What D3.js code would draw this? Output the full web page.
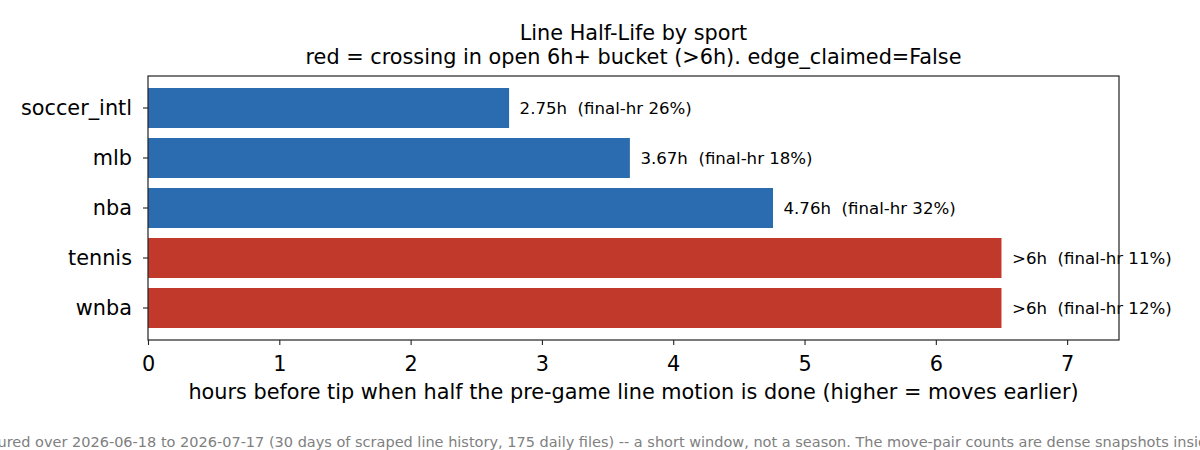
<!DOCTYPE html>
<html>
<head>
<meta charset="utf-8">
<script src="https://cdn.jsdelivr.net/npm/d3@7"></script>
<style>
  html, body { margin: 0; padding: 0; background: #fff; }
  svg { display: block; font-family: "DejaVu Sans", sans-serif; }
</style>
</head>
<body>
<svg id="chart" width="1200" height="450"></svg>
<script>
// ---- data ----
const sports = ["soccer_intl", "mlb", "nba", "tennis", "wnba"];
const halfLifeHours = [2.75, 3.67, 4.76, 6.5, 6.5];
const openBucket = [false, false, false, true, true];
const finalHourPct = [26, 18, 32, 11, 12];
const valueLabels = ["2.75h", "3.67h", "4.76h", ">6h", ">6h"];
const xTicks = [0, 1, 2, 3, 4, 5, 6, 7];
const titleLines = ["Line Half-Life by sport", "red = crossing in open 6h+ bucket (>6h). edge_claimed=False"];
const xLabel = "hours before tip when half the pre-game line motion is done (higher = moves earlier)";
const footPrefix = "Half-life meas";
const footRest = "ured over 2026-06-18 to 2026-07-17 (30 days of scraped line history, 175 daily files) -- a short window, not a season. The move-pair counts are dense snapshots inside each game, not independent games.";

const rows = sports.map((s, i) => ({ sport: s, v: halfLifeHours[i], open: openBucket[i], pct: finalHourPct[i], lab: valueLabels[i] }));

const svg = d3.select("#chart");
const L = 148, R = 1119, T = 76, B = 340;
const BIG = "20.8px", MID = "16.6px", SMALL = "14.5px";

const x = d3.scaleLinear().domain([0, 7.395]).range([L, R]);
// matplotlib-like categorical: positions 0..4 with ylim [-0.64, 4.64]
const yPos = d3.scaleLinear().domain([-0.64, 4.64]).range([T, B]);
const barH = yPos(0.4) - yPos(-0.4);

const blue = "#2b6cb0", red = "#c0392b";

// bars
svg.append("g").selectAll("rect").data(rows).join("rect")
  .attr("x", x(0))
  .attr("y", (d, i) => yPos(i) - barH / 2)
  .attr("width", d => x(d.v) - x(0))
  .attr("height", barH)
  .attr("fill", d => d.open ? red : blue);

// value labels
svg.append("g").selectAll("text").data(rows).join("text")
  .attr("x", d => x(d.v + 0.08))
  .attr("y", (d, i) => yPos(i))
  .attr("dy", "0.35em")
  .attr("font-size", MID)
  .attr("fill", "#000")
  .style("white-space", "pre")
  .text(d => `${d.lab}  (final-hr ${d.pct}%)`);

// frame
svg.append("rect").attr("x", L).attr("y", T).attr("width", R - L).attr("height", B - T)
  .attr("fill", "none").attr("stroke", "#222").attr("stroke-width", 1.2);

// x axis
const xAxis = d3.axisBottom(x).tickValues(xTicks).tickFormat(d3.format("d")).tickSize(5).tickPadding(11);
const gx = svg.append("g").attr("transform", `translate(0,${B})`).call(xAxis);
gx.select(".domain").remove();
gx.selectAll("line").attr("stroke", "#222").attr("stroke-width", 1.1);
gx.selectAll("text").attr("font-size", BIG).attr("fill", "#000").attr("font-family", "DejaVu Sans, sans-serif");

// y axis
const yBand = d3.scaleOrdinal().domain(sports).range(sports.map((s, i) => yPos(i)));
const gy = svg.append("g").attr("transform", `translate(${L},0)`);
gy.selectAll("line").data(sports).join("line")
  .attr("x1", -5).attr("x2", 0)
  .attr("y1", d => yBand(d)).attr("y2", d => yBand(d))
  .attr("stroke", "#222").attr("stroke-width", 1.1);
gy.selectAll("text").data(sports).join("text")
  .attr("x", -16).attr("y", d => yBand(d)).attr("dy", "0.35em")
  .attr("text-anchor", "end").attr("font-size", BIG).attr("fill", "#000")
  .text(d => d);

// axis label
svg.append("text").attr("x", (L + R) / 2).attr("y", 399).attr("text-anchor", "middle")
  .attr("font-size", BIG).attr("fill", "#000").text(xLabel);

// title
svg.append("text").attr("x", (L + R) / 2).attr("y", 40).attr("text-anchor", "middle")
  .attr("font-size", BIG).attr("fill", "#000").text(titleLines[0]);
svg.append("text").attr("x", (L + R) / 2).attr("y", 64).attr("text-anchor", "middle")
  .attr("font-size", BIG).attr("fill", "#000").text(titleLines[1]);

// footer
const tmp = svg.append("text").attr("font-size", SMALL).text(footPrefix);
const pw = tmp.node().getComputedTextLength();
tmp.remove();
svg.append("text").attr("x", -2.5 - pw).attr("y", 447)
  .attr("font-size", SMALL).attr("fill", "#808080")
  .text(footPrefix + footRest);
</script>
</body>
</html>
